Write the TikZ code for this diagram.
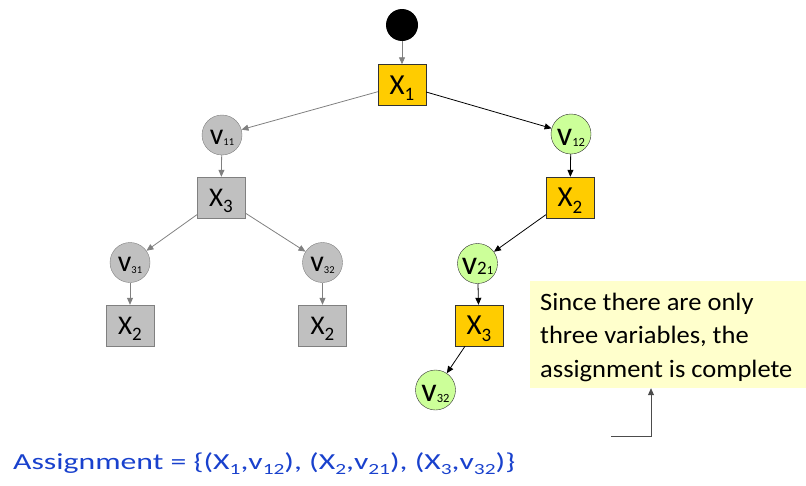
\documentclass[tikz,border=0pt]{standalone}
\usepackage{fontspec}
\setmainfont{Carlito}
\usetikzlibrary{arrows.meta}
\definecolor{grayfill}{RGB}{192,192,192}
\definecolor{grayline}{RGB}{128,128,128}
\definecolor{orangefill}{RGB}{255,204,0}
\definecolor{greenfill}{RGB}{204,255,153}
\definecolor{notefill}{RGB}{255,255,204}
\definecolor{assigncol}{RGB}{25,65,205}
\newcommand\xsub[1]{\raisebox{-0.22em}[0pt][0pt]{\fontsize{19}{19}\selectfont #1}}
\newcommand\vsubc[1]{\raisebox{-0.05em}{\fontsize{12.5}{12.5}\selectfont #1}}
\newcommand\vsubg[1]{\raisebox{-0.05em}{\fontsize{10.5}{10.5}\selectfont #1}}
\newcommand\asub[1]{\raisebox{-0.2em}{\fontsize{15.5}{15.5}\selectfont #1}}
\newcommand\Xo[1]{{\fontsize{29}{29}\selectfont X\xsub{#1}}}
\newcommand\Xg[1]{{\fontsize{27}{27}\selectfont X\xsub{#1}}}
\newcommand\Vg[1]{\raisebox{-9pt}[0pt][0pt]{\fontsize{30}{30}\selectfont v\vsubg{#1}}}
\newcommand\Vc[1]{\raisebox{-11pt}[0pt][0pt]{\fontsize{34}{34}\selectfont v\vsubc{#1}}}
\tikzset{
  varbox/.style={draw, rectangle, minimum width=48pt, minimum height=41pt, inner sep=0pt},
  valcirc/.style={draw, circle, minimum size=40pt, inner sep=0pt},
  gbox/.style={varbox, fill=grayfill, draw=grayline},
  obox/.style={varbox, fill=orangefill, draw=black!80},
  gcirc/.style={valcirc, fill=grayfill, draw=grayline},
  ccirc/.style={valcirc, fill=greenfill, draw=black!80},
  garrow/.style={draw=grayline, line width=0.8pt, -{Triangle[length=7pt,width=6pt]}},
  barrow/.style={draw=black, line width=0.8pt, -{Triangle[length=7pt,width=6pt]}},
  notetxt/.style={anchor=base west, inner sep=0pt, font=\fontsize{25}{25}\selectfont},
}
\begin{document}
\begin{tikzpicture}[x=1pt,y=-1pt]
\useasboundingbox (0,0) rectangle (806,485);
\node[circle, fill=black, minimum size=32pt, inner sep=0pt] (root) at (402,25) {};
\node[obox] (x1) at (402,85) {\Xo{1}};
\node[gcirc] (v11) at (222,135) {\Vg{11}};
\node[ccirc] (v12) at (571,134) {\Vc{12}};
\node[gbox] (x3g) at (221,197.5) {\Xg{3}};
\node[obox] (x2) at (570,197.5) {\Xo{2}};
\node[gcirc] (v31) at (130,262.5) {\Vg{31}};
\node[gcirc] (v32g) at (322.5,262.5) {\Vg{32}};
\node[ccirc] (v21) at (477.5,263.5) {\raisebox{-11pt}[0pt][0pt]{\fontsize{34}{34}\selectfont v{\fontsize{19}{19}\selectfont 2}{\fontsize{12.5}{12.5}\selectfont 1}}};
\node[gbox] (x2a) at (130,325.5) {\Xg{2}};
\node[gbox] (x2b) at (322.5,325.5) {\Xg{2}};
\node[obox] (x3) at (479,325.5) {\Xo{3}};
\node[ccirc] (v32) at (435.5,390) {\Vc{32}};
\node[fill=notefill, minimum width=276pt, minimum height=107pt, inner sep=0pt] (note) at (668,334.5) {};
\node[notetxt] (nl1) at (540,310) {\scalebox{1.06}[1]{Since there are only}};
\node[notetxt] (nl2) at (540,343.5) {\scalebox{1.06}[1]{three variables, the}};
\node[notetxt] (nl3) at (540,377) {\scalebox{1.06}[1]{assignment is complete}};
\coordinate (c1) at (611,436);
\coordinate (c2) at (651,436);
\node[anchor=base west, inner sep=0pt, text=assigncol, font=\fontsize{23}{26}\selectfont] (assign) at (13,469.5) {\scalebox{1.38}[1]{Assignment = \{(X\asub{1},v\asub{12}), (X\asub{2},v\asub{21}), (X\asub{3},v\asub{32})\}}};
\draw[garrow] (root) -- (x1);
\draw[garrow] (x1) -- (v11);
\draw[barrow] (x1) -- (v12);
\draw[barrow] (v12) -- (x2);
\draw[barrow] (x2) -- (v21);
\draw[barrow] (v21) -- (x3);
\draw[barrow] (x3) -- (v32);
\draw[garrow] (v11) -- (x3g);
\draw[garrow] (x3g) -- (v31);
\draw[garrow] (x3g) -- (v32g);
\draw[garrow] (v31) -- (x2a);
\draw[garrow] (v32g) -- (x2b);
\draw[line width=0.8pt, draw=black!70, -{Triangle[length=7pt,width=6pt]}] (c1) -- (c2) -- (c2 |- note.south);
\end{tikzpicture}
\end{document}
